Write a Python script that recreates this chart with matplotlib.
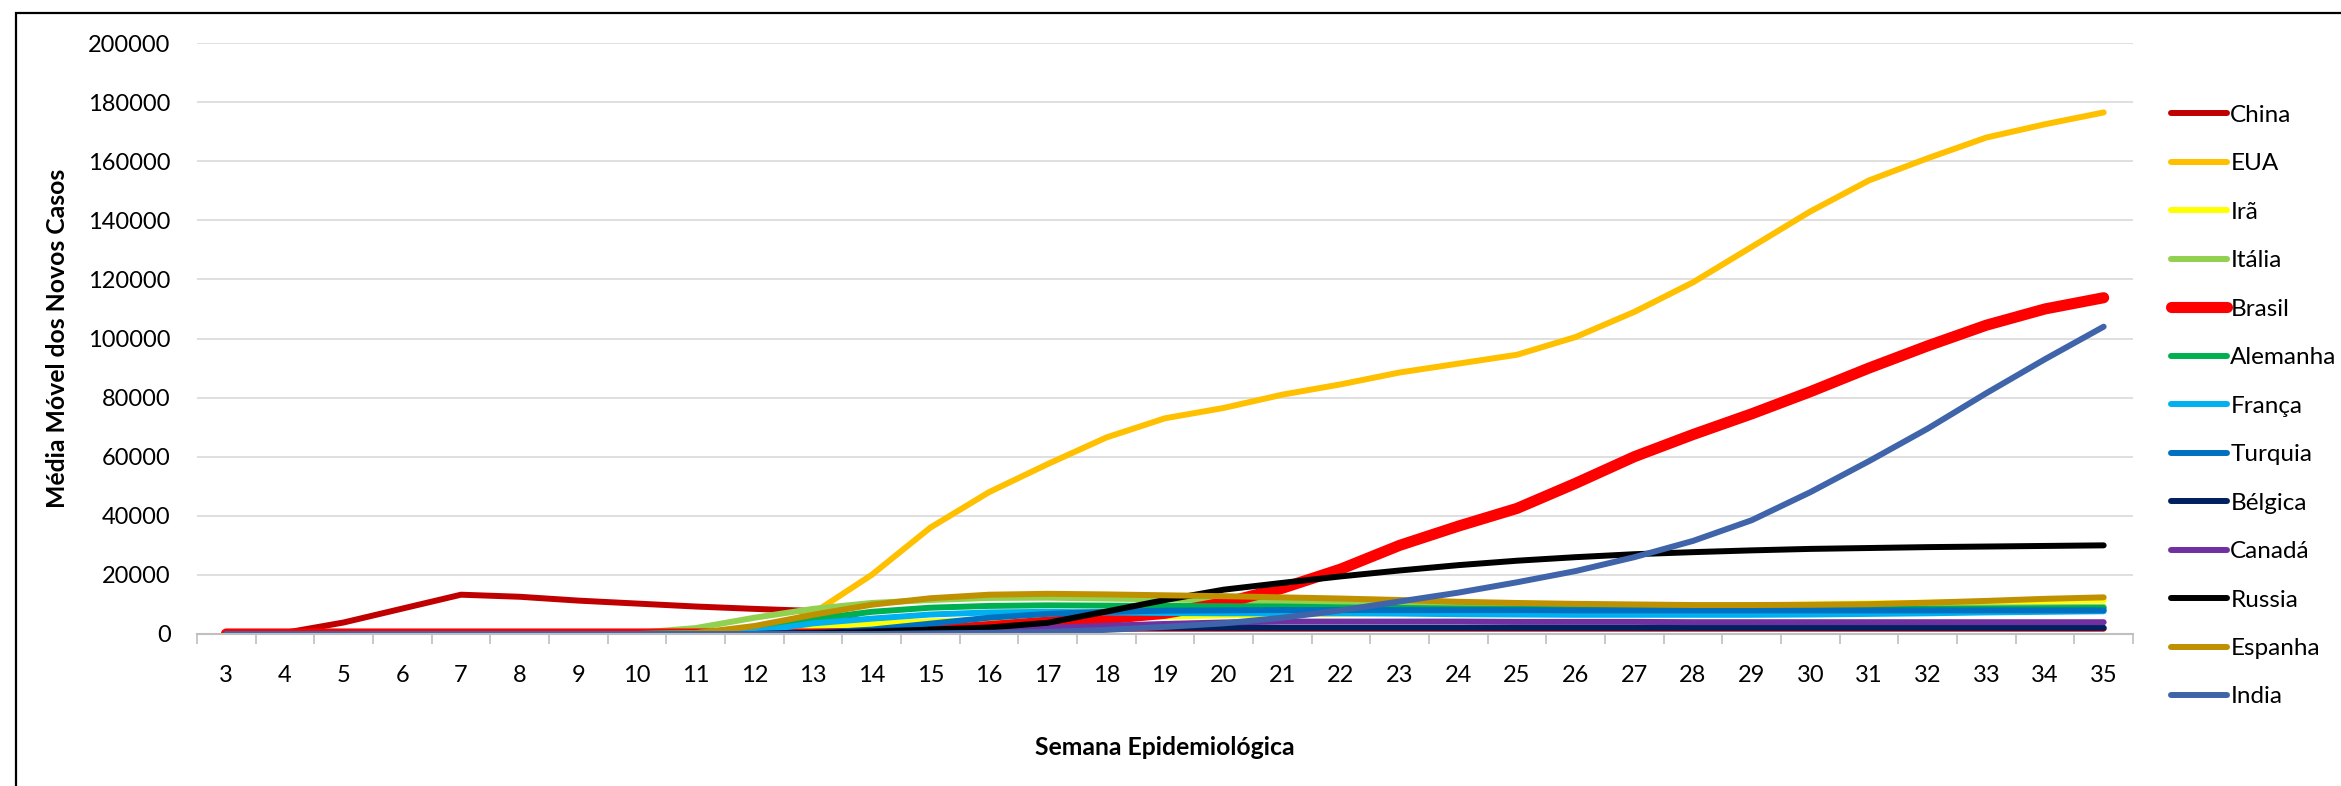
import matplotlib
matplotlib.use("Agg")
import matplotlib.pyplot as plt
from matplotlib.patches import Rectangle
from matplotlib.ticker import MultipleLocator, FixedLocator

plt.rcParams['font.family'] = ['Lato', 'DejaVu Sans']

weeks = list(range(3, 36))

china = [300, 400, 3900, 8600, 13300, 12600, 11300, 10300, 9300, 8500, 7800, 4000, 2200,
         1800, 1800, 1800, 1800, 1800, 1800, 1800, 1800, 1800, 1800, 1800, 1800, 1800, 1800,
         1800, 1800, 1800, 1800, 1800, 1800]
eua = [0, 0, 0, 0, 0, 0, 0, 0, 100, 800, 7000, 20000, 36000, 48000, 57500, 66500, 73000,
       76500, 81000, 84500, 88500, 91500, 94500, 100500, 109000, 119000, 131000, 143000,
       153500, 161000, 168000, 172500, 176500]
ira = [0, 0, 0, 0, 0, 0, 0, 100, 300, 700, 2500, 3500, 4300, 4800, 5200, 5500, 5900, 6300,
       6600, 6900, 7200, 7600, 8000, 8400, 8800, 9200, 9600, 10000, 10300, 10600, 10900,
       11200, 11400]
italia = [0, 0, 0, 0, 0, 0, 0, 400, 2000, 5500, 8500, 10500, 11500, 12200, 12300, 12000,
          11700, 11300, 10900, 10500, 10000, 9700, 9400, 9200, 9000, 8900, 8800, 8800, 8800,
          8900, 9000, 9100, 9200]
brasil = [0, 0, 0, 0, 0, 0, 0, 0, 0, 0, 0, 300, 1200, 2500, 4000, 5200, 7000, 10500, 15500,
          22000, 30000, 36500, 42500, 51000, 60000, 67500, 74500, 82000, 90000, 97500, 104500,
          110000, 113800]
alemanha = [0, 0, 0, 0, 0, 0, 0, 0, 300, 1500, 5000, 7500, 8900, 9500, 9700, 9600, 9500,
            9400, 9300, 9000, 8800, 8600, 8500, 8400, 8300, 8300, 8300, 8300, 8400, 8500,
            8600, 8700, 8800]
franca = [0, 0, 0, 0, 0, 0, 0, 0, 200, 800, 3600, 5200, 6600, 7300, 7500, 7300, 7100, 7000,
          7000, 7000, 6900, 6700, 6600, 6500, 6500, 6500, 6500, 6600, 6800, 7000, 7300, 7500,
          7700]
turquia = [0, 0, 0, 0, 0, 0, 0, 0, 0, 0, 300, 1500, 3500, 5500, 6800, 7500, 7900, 8000,
           8100, 8100, 8100, 8100, 8100, 8000, 8000, 8000, 8000, 8000, 8000, 8000, 8000,
           8000, 8000]
belgica = [0, 0, 0, 0, 0, 0, 0, 0, 0, 0, 400, 1000, 1400, 1700, 1900, 2000, 2100, 2100,
           2100, 2100, 2100, 2100, 2100, 2100, 2100, 2100, 2100, 2100, 2100, 2100, 2100,
           2100, 2100]
canada = [0, 0, 0, 0, 0, 0, 0, 0, 0, 0, 100, 400, 900, 1500, 2100, 2800, 3400, 3900, 4200,
          4200, 4200, 4200, 4100, 4100, 4100, 4000, 4000, 4000, 4000, 4000, 4000, 4000, 4000]
russia = [0, 0, 0, 0, 0, 0, 0, 0, 0, 0, 200, 600, 1500, 2200, 3800, 7600, 11500, 15000,
          17300, 19500, 21500, 23300, 24800, 26000, 27000, 27700, 28300, 28800, 29100, 29400,
          29600, 29800, 30000]
espanha = [0, 0, 0, 0, 0, 0, 0, 0, 300, 2700, 6500, 9900, 12100, 13300, 13600, 13400, 13100,
           12800, 12400, 12000, 11500, 10900, 10500, 10200, 10000, 9800, 9800, 9900, 10100,
           10600, 11200, 11900, 12400]
india = [0, 0, 0, 0, 0, 0, 0, 0, 0, 0, 0, 0, 200, 400, 700, 1400, 2400, 3600, 5500, 8000,
         11000, 14000, 17500, 21300, 26000, 31500, 38500, 48000, 58500, 69500, 81500, 93000,
         104000]

series = [
    ("China", china, "#C00000"),
    ("EUA", eua, "#FFC000"),
    ("Irã", ira, "#FFFF00"),
    ("Itália", italia, "#92D050"),
    ("Brasil", brasil, "#FF0000"),
    ("Alemanha", alemanha, "#00B050"),
    ("França", franca, "#00B0F0"),
    ("Turquia", turquia, "#0070C0"),
    ("Bélgica", belgica, "#002060"),
    ("Canadá", canada, "#7030A0"),
    ("Russia", russia, "#000000"),
    ("Espanha", espanha, "#BF9000"),
    ("India", india, "#3F64A9"),
]

fig = plt.figure(figsize=(23.41, 7.86), dpi=100)
ax = fig.add_axes([197 / 2341, 1 - 634 / 786, 1936 / 2341, 591 / 786])

for name, vals, col in series:
    lw = 8 if name == "Brasil" else 4.3
    ax.plot(weeks, vals, color=col, lw=lw, label=name, solid_capstyle='round',
            solid_joinstyle='round')

ax.set_xlim(2.5, 35.5)
ax.set_ylim(0, 200000)
ax.yaxis.set_major_locator(MultipleLocator(20000))
ax.set_xticks(weeks)
ax.xaxis.set_minor_locator(FixedLocator([w - 0.5 for w in weeks] + [35.5]))
ax.grid(axis='y', color='#D9D9D9', lw=1.2)
ax.set_axisbelow(True)
for s in ['top', 'right', 'left']:
    ax.spines[s].set_visible(False)
ax.spines['bottom'].set_color('#BFBFBF')
ax.spines['bottom'].set_linewidth(1.5)
ax.tick_params(axis='y', length=0, pad=19, labelsize=17)
ax.tick_params(axis='x', which='major', length=0, pad=22, labelsize=17)
ax.tick_params(axis='x', which='minor', length=7, width=1.2, color='#BFBFBF')

ax.set_xlabel("Semana Epidemiológica", fontsize=17.8, fontweight='bold', labelpad=36)
ax.set_ylabel("Média Móvel dos Novos Casos", fontsize=17.8, fontweight='bold')
ax.yaxis.set_label_coords(-0.066, 0.5)

leg = ax.legend(loc='upper left', bbox_to_anchor=(2161 / 2341, 1 - 95 / 786),
                bbox_transform=fig.transFigure, frameon=False, fontsize=17.5,
                handlelength=2.3, handletextpad=0.15, labelspacing=1.13, borderaxespad=0)

fig.add_artist(Rectangle((16 / 2341, -0.1), 1.2, 1.1 - 13 / 786, transform=fig.transFigure,
                         fill=False, edgecolor='black', lw=1.6, clip_on=False))

fig.savefig("out.png", dpi=100)
